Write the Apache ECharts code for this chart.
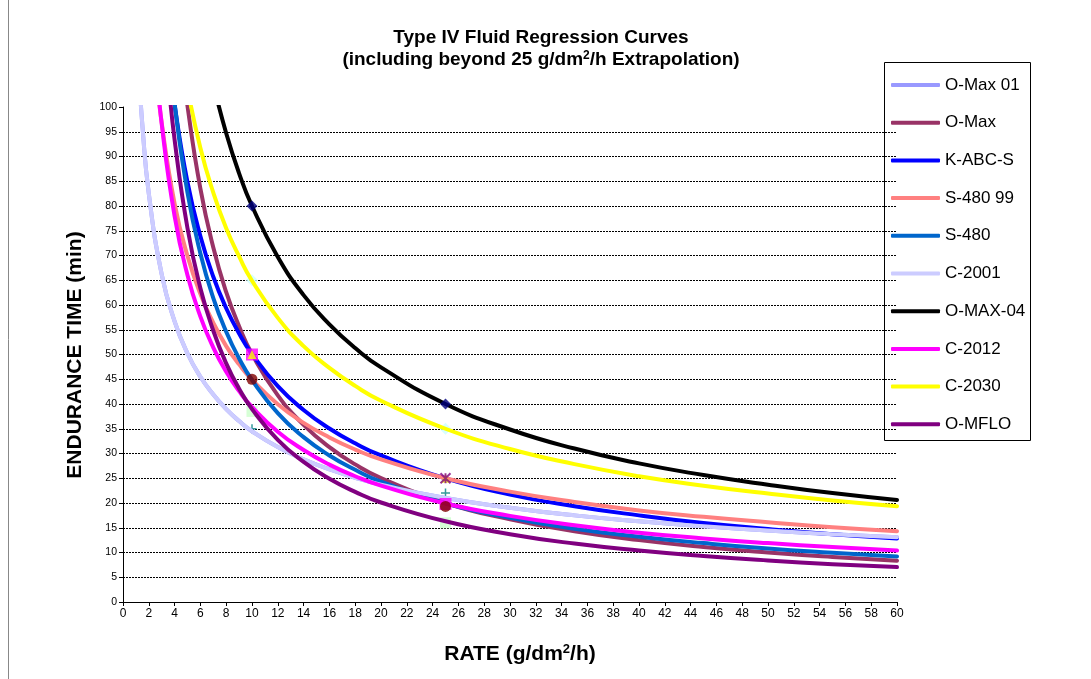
<!DOCTYPE html>
<html>
<head>
<meta charset="utf-8">
<script src="https://cdn.jsdelivr.net/npm/echarts@6/dist/echarts.min.js"></script>
<style>
html,body{margin:0;padding:0;background:#fff;}
#c{width:1091px;height:679px;}
</style>
</head>
<body>
<div id="c"></div>
<script>
// ---- data ----
const seriesNames = ['O-Max 01','O-Max','K-ABC-S','S-480 99','S-480','C-2001','O-MAX-04','C-2012','C-2030','O-MFLO'];
const seriesColors = ['#9999FF','#993366','#0000FF','#FF8080','#0066CC','#CCCCFF','#000000','#FF00FF','#FFFF00','#800080'];

const omax01 = [[1.25,106.4],[1.5,96.4],[2,82.5],[3,66.2],[4,56.7],[5,50.2],[6,45.5],[7,41.9],[8,38.95],[9,36.55],[10,34.5],[12,31.3],[14,28.8],[16,26.8],[18,25.1],[20,23.7],[25,21.0],[30,19.05],[35,17.5],[40,16.3],[45,15.3],[50,14.45],[55,13.7],[60,13.1]];
const omax = [[4.5,111.3],[5,100.2],[6,83.5],[7,71.6],[8,62.6],[9,55.7],[10,50.1],[12,41.75],[14,35.8],[16,31.3],[18,27.8],[20,25.05],[25,20.0],[30,16.7],[35,14.3],[40,12.5],[45,11.1],[50,10.0],[55,9.1],[60,8.35]];
const kabcs = [[3.5,111.2],[4,100.5],[5,84.8],[6,73.9],[7,65.7],[8,59.35],[9,54.25],[10,50.1],[12,43.6],[14,38.8],[16,35.05],[18,32.05],[20,29.6],[25,24.97],[30,21.7],[35,19.35],[40,17.5],[45,15.95],[50,14.75],[55,13.7],[60,12.85]];
const s48099 = [[2.5,108.7],[3,96.8],[4,80.5],[5,69.9],[6,62.2],[7,56.4],[8,51.7],[9,48.0],[10,44.9],[12,39.95],[14,36.2],[16,33.25],[18,30.8],[20,28.8],[25,25.0],[30,22.3],[35,20.2],[40,18.5],[45,17.2],[50,16.1],[55,15.1],[60,14.3]];
const s480 = [[3.5,113.3],[4,100.7],[5,82.7],[6,70.4],[7,61.4],[8,54.6],[9,49.2],[10,44.85],[12,38.15],[14,33.3],[16,29.6],[18,26.7],[20,24.3],[25,19.95],[30,17.0],[35,14.8],[40,13.2],[45,11.9],[50,10.8],[55,9.95],[60,9.2]];
const c2001 = [[1.25,106.4],[1.5,96.4],[2,82.5],[3,66.2],[4,56.7],[5,50.2],[6,45.5],[7,41.9],[8,38.95],[9,36.55],[10,34.5],[12,31.3],[14,28.8],[16,26.8],[18,25.1],[20,23.7],[25,21.0],[30,19.05],[35,17.5],[40,16.3],[45,15.3],[50,14.45],[55,13.7],[60,13.1]];
const omax04 = [[7,104.7],[8,94.7],[9,86.6],[10,80.0],[12,69.7],[14,62.0],[16,56.1],[18,51.3],[20,47.4],[25,40.0],[30,34.85],[35,31.0],[40,28.0],[45,25.65],[50,23.7],[55,22.0],[60,20.6]];
const c2012 = [[2.5,110.7],[3,96.6],[4,77.95],[5,66.0],[6,57.65],[7,51.4],[8,46.5],[9,42.6],[10,39.4],[12,34.4],[14,30.7],[16,27.75],[18,25.4],[20,23.5],[25,19.9],[30,17.4],[35,15.5],[40,14.0],[45,12.85],[50,11.9],[55,11.1],[60,10.4]];
const c2030 = [[5,103.8],[6,91.7],[7,82.7],[8,75.5],[9,69.8],[10,64.9],[12,57.4],[14,51.7],[16,47.3],[18,43.65],[20,40.65],[25,35.0],[30,30.9],[35,27.85],[40,25.4],[45,23.5],[50,21.9],[55,20.5],[60,19.35]];
const omflo = [[3.5,106.1],[4,93.4],[5,75.5],[6,63.4],[7,54.8],[8,48.2],[9,43.1],[10,38.97],[12,32.75],[14,28.3],[16,24.9],[18,22.25],[20,20.1],[25,16.3],[30,13.7],[35,11.8],[40,10.4],[45,9.3],[50,8.4],[55,7.65],[60,7.05]];
const curves = [omax01, omax, kabcs, s48099, s480, c2001, omax04, c2012, c2030, omflo];

// measured points (markers)
const ptsNavyDiamond = [[10,80],[25,40]];
const ptsMagentaSquare = [[10,50],[25,19.8]];
const ptsYellowTriangle = [[10,50],[25,25]];
const ptsPurpleStar = [[25,25]];
const ptsMaroonCircle = [[10,45],[25,19.3]];
const ptsTealPlus = [[10,35],[25,22]];
const ptsCyanDiamond = [[10,65],[25,35]];
const ptsGreenSquare = [[10,38.5],[25,16]];

const yGridValues = [5,10,15,20,25,30,35,40,45,50,55,60,65,70,75,80,85,90,95];

const FONT = '"Liberation Sans", Arial, sans-serif';

const chart = echarts.init(document.getElementById('c'), null, {renderer:'canvas'});

const series = [];

function scat(name, data, symbol, size, color, extra) {
  return Object.assign({
    type:'scatter', name:name, data:data, symbol:symbol, symbolSize:size,
    itemStyle:{color:color}, z:1, silent:true
  }, extra || {});
}
series.push(scat('pts-cyan', ptsCyanDiamond, 'diamond', 12, '#CCFFFF'));
series.push(scat('pts-green', ptsGreenSquare, 'rect', 11, '#CCFFCC'));
series.push(scat('pts-teal', ptsTealPlus, 'path://M5,0L5,10M0,5L10,5', 9, '#008080', {itemStyle:{color:'none', borderColor:'#008080', borderWidth:1.5}}));

curves.forEach((d, i) => {
  const s = {
    type:'line', name:seriesNames[i], data:d, symbol:'none', smooth:0.5,
    lineStyle:{color:seriesColors[i], width:4, cap:'round', join:'round'}, itemStyle:{color:seriesColors[i]},
    z:2, clip:true, silent:true
  };
  if (i === 0) {
    s.markLine = {
      silent:true, symbol:['none','none'], label:{show:false},
      lineStyle:{color:'#000', type:[2,1], width:1},
      data: yGridValues.map(v => ({yAxis:v})),
      z:1
    };
  }
  series.push(s);
});

series.push(scat('pts-navy', ptsNavyDiamond, 'diamond', 11, '#000080', {z:3}));
series.push(scat('pts-magenta', ptsMagentaSquare, 'rect', 12, '#FF00FF', {z:3}));
series.push(scat('pts-yellow', ptsYellowTriangle, 'triangle', 9, '#FFFF00', {z:3}));
series.push(scat('pts-purple', ptsPurpleStar, 'path://M0,0L10,10M10,0L0,10M5,0L5,10', 10, '#800080', {z:3, itemStyle:{color:'none', borderColor:'#800080', borderWidth:2}}));
series.push(scat('pts-maroon', ptsMaroonCircle, 'circle', 11, '#800000', {z:3}));

chart.setOption({
  animation:false,
  backgroundColor:'#fff',
  grid:{left:123, right:194, top:107, bottom:77, containLabel:false},
  xAxis:{
    type:'value', min:0, max:60, interval:2,
    axisLine:{show:true, onZero:false, lineStyle:{color:'#000', width:1}},
    axisTick:{show:true, inside:false, length:4, lineStyle:{color:'#000'}},
    axisLabel:{color:'#000', fontSize:12, fontFamily:FONT, margin:6},
    splitLine:{show:false}
  },
  yAxis:{
    type:'value', min:0, max:100, interval:5,
    axisLine:{show:true, onZero:false, lineStyle:{color:'#000', width:1}},
    axisTick:{show:true, inside:false, length:4, lineStyle:{color:'#000'}},
    axisLabel:{color:'#000', fontSize:10.5, fontFamily:FONT, margin:6},
    splitLine:{show:false}
  },
  legend:{
    data:seriesNames,
    orient:'vertical', left:891, top:75, padding:0,
    itemWidth:49, itemHeight:4, itemGap:17.7, icon:'roundRect',
    textStyle:{color:'#000', fontSize:17, fontFamily:FONT, lineHeight:20},
    selectedMode:false
  },
  graphic:[
    {type:'rect', shape:{x:884.5, y:62.5, width:146, height:378}, style:{fill:'none', stroke:'#000', lineWidth:1}, z:0},
    {type:'line', shape:{x1:8.5, y1:0, x2:8.5, y2:679}, style:{stroke:'#888', lineWidth:1}},
    {type:'text', x:541, y:38, style:{text:'Type IV Fluid Regression Curves', font:'bold 19px ' + FONT, fill:'#000', textAlign:'center', textVerticalAlign:'middle'}},
    {type:'text', x:541, y:60, style:{
      text:'(including beyond 25 g/dm{s|2}/h Extrapolation)',
      fontSize:19, fontWeight:'bold', fontFamily:FONT, fill:'#000', textAlign:'center', textVerticalAlign:'middle',
      rich:{s:{fontSize:12, fontWeight:'bold', fontFamily:FONT, fill:'#000', verticalAlign:'top', lineHeight:20}}
    }},
    {type:'text', x:75, y:355, rotation:Math.PI/2, style:{text:'ENDURANCE TIME (min)', font:'bold 21px ' + FONT, fill:'#000', textAlign:'center', textVerticalAlign:'middle'}},
    {type:'text', x:520, y:654, style:{
      text:'RATE (g/dm{s|2}/h)',
      fontSize:21, fontWeight:'bold', fontFamily:FONT, fill:'#000', textAlign:'center', textVerticalAlign:'middle',
      rich:{s:{fontSize:13, fontWeight:'bold', fontFamily:FONT, fill:'#000', verticalAlign:'top', lineHeight:22}}
    }}
  ],
  series:series
});
</script>
</body>
</html>
